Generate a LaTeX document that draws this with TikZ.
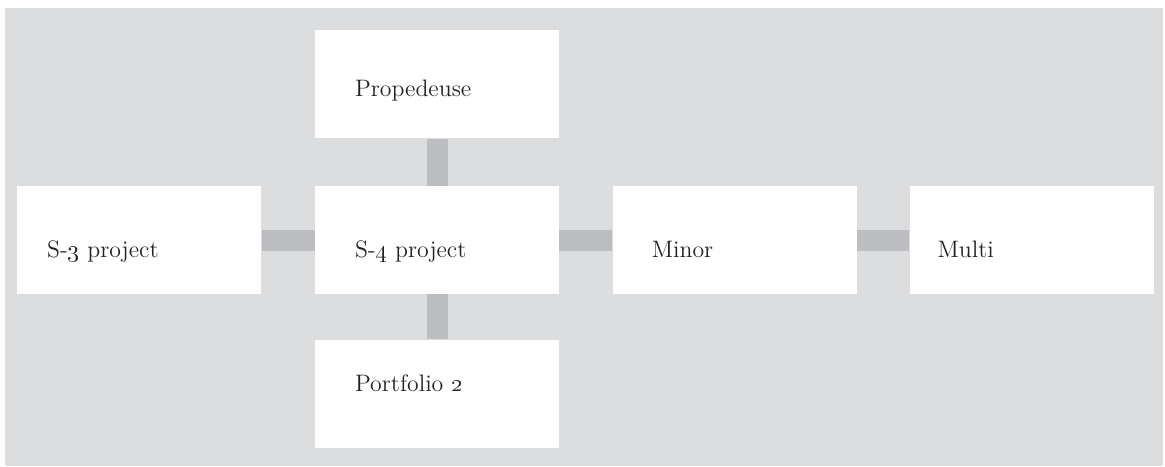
\documentclass[tikz,border=0pt]{standalone}
\usepackage{tikz}
\usetikzlibrary{calc}
\usetikzlibrary{positioning}
\definecolor{panelgrey}{HTML}{DCDDDF}
\definecolor{bargrey}{HTML}{BCBDC1}
\definecolor{inkgrey}{HTML}{222222}

\begin{document}
\begin{tikzpicture}
		[
		x=0.5pt, y=-0.5pt,
		font=\fontsize{11.9}{14}\selectfont,
		node distance=26.5pt
		]
		
		% Styles: white boxes, grey links, labels
		\tikzstyle{box}=[rectangle,fill=white,minimum width=122pt,minimum height=54pt,inner sep=0];
		\tikzstyle{link}=[draw=bargrey,line width=10.5pt];
		\tikzstyle{lbl}=[anchor=base west,inner sep=0,text=inkgrey];
		
		% Background panel
		\useasboundingbox (0,0) rectangle (1165,466);
		\fill[panelgrey] (5,8) rectangle (1163,466);
		
		% The boxes
		\node(s4)[box] at (437,240) {};
		\node(s3)[box,left=of s4] {};
		\node(minor)[box,right=of s4] {};
		\node(multi)[box,right=26pt of minor] {};
		\node(prop)[box,above=23.5pt of s4] {};
		\node(port)[box,below=22.5pt of s4] {};
		
		% Links
		\draw[link](s3.east)--(s4.west);
		\draw[link](s4.east)--(minor.west);
		\draw[link](minor.east)--(multi.west);
		\draw[link](prop.south)--(s4.north);
		\draw[link](s4.south)--(port.north);
		
		% Labels
		\node(proptxt)[lbl] at ([shift={(40,12)}]prop.west) {Propedeuse};
		\node(s3txt)[lbl] at ([shift={(30,17)}]s3.west) {S-\oldstylenums{3} project};
		\node(s4txt)[lbl] at ([shift={(40,17)}]s4.west) {S-\oldstylenums{4} project};
		\node(minortxt)[lbl] at ([shift={(39,17)}]minor.west) {Minor};
		\node(multitxt)[lbl] at ([shift={(28,17)}]multi.west) {Multi};
		\node(porttxt)[lbl] at ([shift={(40,-2)}]port.west) {Portfolio \oldstylenums{2}};
		\end{tikzpicture}
\end{document}
